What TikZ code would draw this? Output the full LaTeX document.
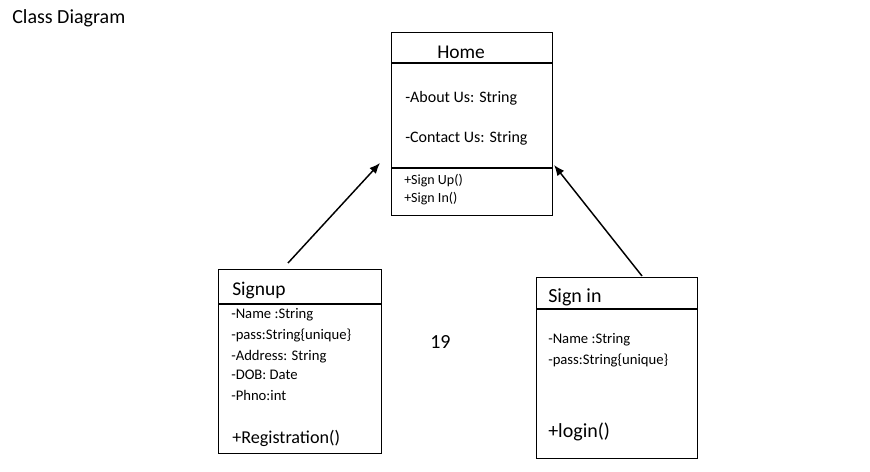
\documentclass[tikz,border=0pt]{standalone}
\usepackage{fontspec}
\setmainfont{Carlito}
\usetikzlibrary{arrows.meta,positioning}
\tikzset{
  cls/.style={draw, line width=0.8pt, inner sep=0pt, anchor=north west},
  sep/.style={line width=1.5pt},
  txt/.style={anchor=base west, inner sep=0pt},
  big/.style={txt, font=\fontsize{14.6}{16}\selectfont},
  mid/.style={txt, font=\fontsize{12}{14}\selectfont},
  sml/.style={txt, font=\fontsize{11}{13}\selectfont},
  tny/.style={txt, font=\fontsize{10.5}{12}\selectfont},
  gen/.style={-{Latex[length=8pt,width=6.5pt]}, line width=1.1pt},
}
\begin{document}
\begin{tikzpicture}[x=0.75pt,y=-0.75pt]
\useasboundingbox (0,0) rectangle (870,471);

\node[big, font=\fontsize{15}{16}\selectfont] (t) at (12,23) {Class Diagram};
\node[big, font=\fontsize{15}{16}\selectfont] (n) at (430,348) {19};

\node[cls, minimum width=120.75pt, minimum height=137.25pt] (h) at (391,32) {};
\draw[sep] (391,63) -- (552,63);
\draw[sep] (391,168) -- (552,168);
\node[big] (h0) at (437,58) {Home};
\node[mid] (h1) at (405,102) {-About Us: String};
\node[mid] (h2) at (405,142) {-Contact Us: String};
\node[tny] (h3) at (404,184) {+Sign Up()};
\node[tny] (h4) at (404,202) {+Sign In()};

\node[cls, minimum width=122.25pt, minimum height=138pt] (u) at (218,269) {};
\draw[sep] (218,304) -- (381,304);
\node[big] (u0) at (232,295) {Signup};
\node[sml] (u1) at (231,318) {-Name :String};
\node[sml] (u2) at (231,339) {-pass:String\{unique\}};
\node[sml] (u3) at (231,360) {-Address: String};
\node[sml] (u4) at (231,379) {-DOB: Date};
\node[sml] (u5) at (231,400) {-Phno:int};
\node[txt, font=\fontsize{13.6}{15}\selectfont] (u6) at (232,443) {+Registration()};

\node[cls, minimum width=120.75pt, minimum height=135.75pt] (i) at (536,277) {};
\draw[sep] (536,309) -- (697,309);
\node[big, font=\fontsize{15}{16}\selectfont] (i0) at (548,302) {Sign in};
\node[sml] (i1) at (548,343) {-Name :String};
\node[sml] (i2) at (548,364) {-pass:String\{unique\}};
\node[txt, font=\fontsize{15}{16}\selectfont] (i3) at (548,437) {+login()};

\draw[gen] ([shift={(70,-6)}]u.north west) -- ([shift={(-11,131)}]h.north west);
\draw[gen] ([shift={(106,-1)}]i.north west) -- ([shift={(1,133)}]h.north east);
\end{tikzpicture}
\end{document}
